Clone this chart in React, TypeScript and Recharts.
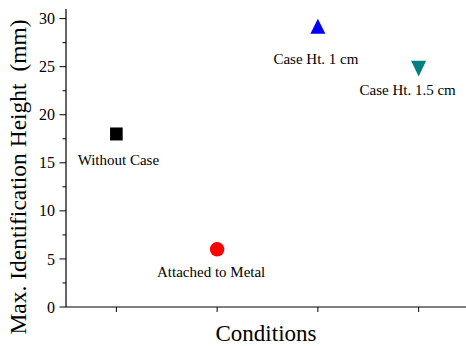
import React from "react";
import { Scatter, ScatterChart, XAxis, YAxis } from "recharts";

const conditions = ["Without Case", "Attached to Metal", "Case Ht. 1 cm", "Case Ht. 1.5 cm"];
const heights = [18, 6, 29.2, 24.8];
const markers = ["square", "circle", "triangle", "triangleDown"];
const colors = ["#000000", "#ff0000", "#0000ff", "#008080"];
// label placement relative to the marker centre: [dx, dy of baseline]
const labelOffsets: [number, number][] = [
  [2, 31],
  [-6, 28],
  [-2, 38],
  [-11, 26],
];
const yTicks = [0, 2.5, 5, 7.5, 10, 12.5, 15, 17.5, 20, 22.5, 25, 27.5, 30];
const xTicks = [1, 2, 3, 4];

const data = conditions.map((name, i) => ({
  x: i + 1,
  y: heights[i],
  name,
  marker: markers[i],
  color: colors[i],
  off: labelOffsets[i],
}));

const FONT = "'Liberation Serif', 'Times New Roman', serif";

function PointShape(props: any) {
  const { cx, cy, payload } = props;
  const c = payload.color;
  let mark: React.ReactNode = null;
  if (payload.marker === "square") {
    mark = <rect x={cx - 6.3} y={cy - 6.5} width={12.6} height={13} fill={c} />;
  } else if (payload.marker === "circle") {
    mark = <circle cx={cx} cy={cy} r={7.2} fill={c} />;
  } else if (payload.marker === "triangle") {
    mark = <path d={`M${cx},${cy - 7.5} L${cx + 7.5},${cy + 7.5} L${cx - 7.5},${cy + 7.5} Z`} fill={c} />;
  } else {
    mark = <path d={`M${cx - 7.5},${cy - 7.8} L${cx + 7.5},${cy - 7.8} L${cx},${cy + 7.8} Z`} fill={c} />;
  }
  return (
    <g>
      {mark}
      <text
        x={cx + payload.off[0]}
        y={cy + payload.off[1]}
        textAnchor="middle"
        fontFamily={FONT}
        fontSize={15}
        fill="#000"
      >
        {payload.name}
      </text>
    </g>
  );
}

function YTick(props: any) {
  const { x, y, payload } = props;
  const major = payload.value % 5 === 0;
  return (
    <g>
      <line x1={x} x2={x - (major ? 6.5 : 3.5)} y1={y} y2={y} stroke="#000" strokeWidth={1} />
      {major ? (
        <text x={x - 11} y={y} dy="0.35em" textAnchor="end" fontFamily={FONT} fontSize={16} fill="#000">
          {payload.value}
        </text>
      ) : null}
    </g>
  );
}

function XTick(props: any) {
  const { x, y } = props;
  return <line x1={x} x2={x} y1={y} y2={y + 5} stroke="#000" strokeWidth={1} />;
}

export default function App() {
  return (
    <div style={{ position: "absolute", left: 0, top: 0, background: "#fff" }}>
      <ScatterChart width={466} height={346} margin={{ top: 9, right: 0, bottom: 0, left: 0 }}>
        <XAxis
          type="number"
          dataKey="x"
          domain={[0.5, 4.47]}
          ticks={xTicks}
          allowDataOverflow
          height={39}
          tickSize={0}
          tickMargin={0}
          tick={<XTick />}
          tickLine={false}
          axisLine={{ stroke: "#000", strokeWidth: 1.2 }}
          label={{
            value: "Conditions",
            content: () => (
              <text x={266} y={341} textAnchor="middle" fontFamily={FONT} fontSize={23} fill="#000">
                Conditions
              </text>
            ),
          }}
        />
        <YAxis
          type="number"
          dataKey="y"
          domain={[0, 31]}
          ticks={yTicks}
          interval={0}
          width={66}
          tickSize={0}
          tickMargin={0}
          tick={<YTick />}
          tickLine={false}
          axisLine={{ stroke: "#000", strokeWidth: 1.2 }}
          label={{
            value: "Max. Identification Height  (mm)",
            content: () => (
              <text
                x={0}
                y={0}
                transform="translate(26,177) rotate(-90)"
                textAnchor="middle"
                fontFamily={FONT}
                fontSize={23.5}
                fill="#000"
                style={{ whiteSpace: "pre" }}
              >
                Max. Identification Height  (mm)
              </text>
            ),
          }}
        />
        <Scatter data={data} shape={<PointShape />} isAnimationActive={false} />
      </ScatterChart>
    </div>
  );
}
